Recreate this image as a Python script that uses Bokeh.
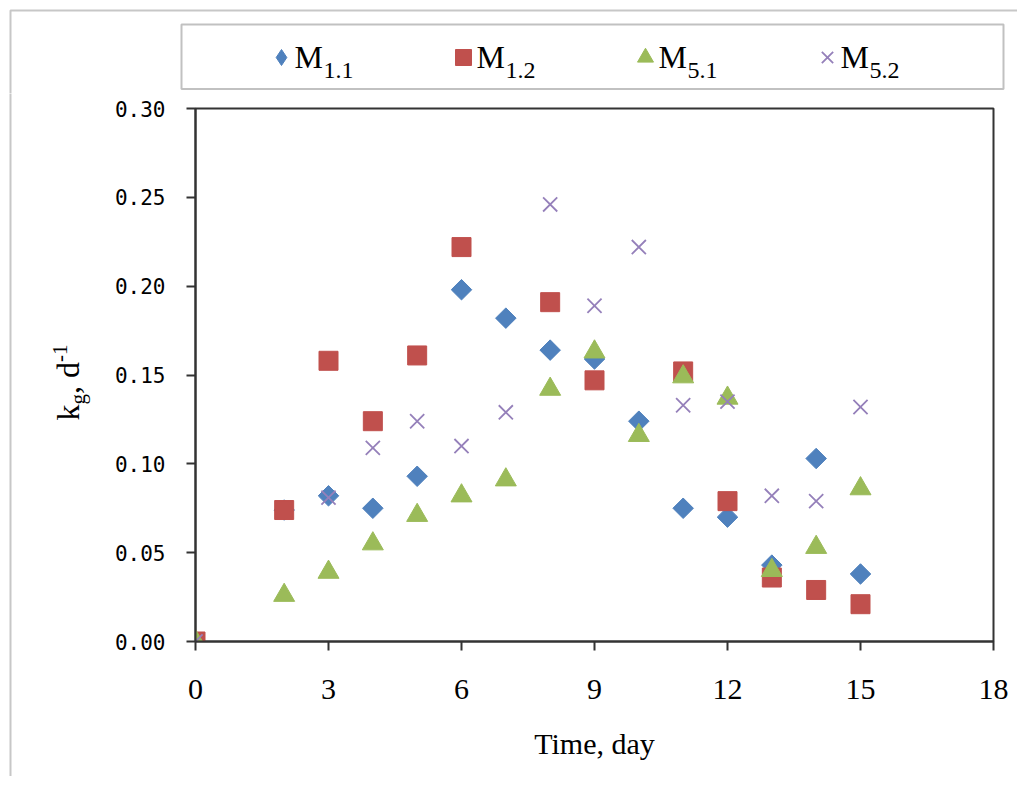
import math
from bokeh.plotting import figure
from bokeh.layouts import column, row
from bokeh.models import (Range1d, FixedTicker, NumeralTickFormatter, Legend,
                          LegendItem, Label, BoxAnnotation)
from bokeh.embed import file_html
from bokeh.resources import INLINE

# ---------------- data ----------------
days_m11 = [0, 2, 3, 4, 5, 6, 7, 8, 9, 10, 11, 12, 13, 14, 15]
kg_m11 = [0.000, 0.074, 0.082, 0.075, 0.093, 0.198, 0.182, 0.164, 0.159,
          0.124, 0.075, 0.070, 0.043, 0.103, 0.038]

days_m12 = [0, 2, 3, 4, 5, 6, 8, 9, 11, 12, 13, 14, 15]
kg_m12 = [0.000, 0.074, 0.158, 0.124, 0.161, 0.222, 0.191, 0.147, 0.152,
          0.079, 0.036, 0.029, 0.021]

days_m51 = [0, 2, 3, 4, 5, 6, 7, 8, 9, 10, 11, 12, 13, 14, 15]
kg_m51 = [0.000, 0.026, 0.039, 0.055, 0.071, 0.082, 0.091, 0.142, 0.163,
          0.116, 0.149, 0.137, 0.040, 0.053, 0.086]

days_m52 = [0, 3, 4, 5, 6, 7, 8, 9, 10, 11, 12, 13, 14, 15]
kg_m52 = [0.000, 0.081, 0.109, 0.124, 0.110, 0.129, 0.246, 0.189, 0.222,
          0.133, 0.135, 0.082, 0.079, 0.132]

series_subs = ["1.1", "1.2", "5.1", "5.2"]
x_ticks = [0, 3, 6, 9, 12, 15, 18]
y_ticks = [0.00, 0.05, 0.10, 0.15, 0.20, 0.25, 0.30]
x_title = "Time, day"

BLUE = "#4F81BD"
RED = "#C0504D"
GREEN = "#9BBB59"
PURPLE = "#9580BA"
AX = "#333333"
BORDER = "#444444"
NAN = float("nan")

# ---------------- overall geometry (page px) ----------------
W, H = 1017, 776
TOP_H = 93          # legend strip height
LEFT_W = 100        # y-title strip width
FRAME_L, FRAME_R, FRAME_T, FRAME_B = 195, 993, 108, 641
FAR = 10000
BASE_K = 0.40       # label baseline correction (fraction of font size)


def strip_fig(width, height, y_offset):
    f = figure(width=width, height=height, output_backend="svg", toolbar_location=None,
               x_range=Range1d(0, width), y_range=Range1d(y_offset + height, y_offset),
               x_axis_location=None, y_axis_location=None, min_border=0,
               frame_align=False,
               background_fill_color="white", border_fill_color="white")
    f.xgrid.visible = False
    f.ygrid.visible = False
    f.outline_line_color = None
    return f


# ---------------- top strip: legend ----------------
top = strip_fig(W, TOP_H, 0)
top.add_layout(BoxAnnotation(left=10, top=10, right=FAR, bottom=FAR,
                             fill_color=None, fill_alpha=0,
                             line_color=BORDER, line_width=2))
top.add_layout(BoxAnnotation(left=181, right=1003, top=24, bottom=88.5,
                             fill_color=None, fill_alpha=0,
                             line_color=AX, line_width=2))
# legend proxies (NaN point: nothing drawn in the strip itself)
lg_d = top.scatter(x=[NAN], y=[NAN], marker="diamond", fill_color=BLUE, line_color=BLUE)
lg_s = top.scatter(x=[NAN], y=[NAN], marker="square", fill_color=RED, line_color=RED)
lg_t = top.scatter(x=[NAN], y=[NAN], marker="triangle", fill_color=GREEN, line_color=GREEN)
lg_x = top.scatter(x=[NAN], y=[NAN], marker="x", line_color=PURPLE, line_width=1.8)

pitch = 182
first_center = 281
legend = Legend(items=[LegendItem(label=" ", renderers=[r]) for r in (lg_d, lg_s, lg_t, lg_x)],
                orientation="horizontal",
                location=(first_center - 20, TOP_H - 77),
                glyph_width=40, glyph_height=40, label_standoff=0,
                label_width=20, label_height=20, spacing=pitch - 60,
                padding=0, margin=0, border_line_color=None,
                background_fill_alpha=0, label_text_font_size="8px")
top.add_layout(legend)

for i, sub in enumerate(series_subs):
    mx = first_center + i * pitch + 13
    top.add_layout(Label(x=mx, y=69 - BASE_K * 32, text="M", text_font="Liberation Serif",
                         text_font_size="32px", text_color="black",
                         text_align="left", text_baseline="alphabetic"))
    top.add_layout(Label(x=mx + 29, y=80 - BASE_K * 24, text=sub, text_font="Liberation Serif",
                         text_font_size="24px", text_color="black",
                         text_align="left", text_baseline="alphabetic"))

# ---------------- left strip: y-axis title ----------------
BOT_H = H - TOP_H
left = strip_fig(LEFT_W, BOT_H, TOP_H)
left.add_layout(BoxAnnotation(left=10, top=-FAR, right=FAR, bottom=FAR,
                              fill_color=None, fill_alpha=0,
                              line_color=BORDER, line_width=2))
ang = math.pi / 2
ytitle_parts = [("k", 80, 420, 32), ("g", 86, 404, 21),
                (", d", 80, 393.5, 32), ("-1", 68, 361.5, 21)]
for txt, X, Y, fs in ytitle_parts:
    left.add_layout(Label(x=X - BASE_K * fs, y=Y, text=txt, angle=ang,
                          text_font="Liberation Serif", text_font_size=f"{fs}px",
                          text_color="black", text_align="left",
                          text_baseline="alphabetic"))

# ---------------- main plot ----------------
MAIN_W = W - LEFT_W
p = figure(width=MAIN_W, height=BOT_H, output_backend="svg", toolbar_location=None,
           x_range=Range1d(0, 18), y_range=Range1d(0, 0.30),
           min_border_left=FRAME_L - LEFT_W, min_border_right=W - FRAME_R,
           min_border_top=FRAME_T - TOP_H, min_border_bottom=H - FRAME_B,
           frame_align=False,
           background_fill_color="white", border_fill_color="white")
p.xgrid.visible = False
p.ygrid.visible = False
p.outline_line_color = AX
p.outline_line_width = 2
p.outline_line_alpha = 1.0

for ax in (p.xaxis, p.yaxis):
    ax.axis_line_color = AX
    ax.axis_line_width = 2
    ax.major_tick_line_color = AX
    ax.major_tick_line_width = 2
    ax.major_tick_out = 9
    ax.major_tick_in = 0
    ax.minor_tick_line_color = None
    ax.major_label_text_color = "black"

p.xaxis.ticker = FixedTicker(ticks=x_ticks)
p.xaxis.major_label_text_font = "Liberation Serif"
p.xaxis.major_label_text_font_size = "30px"
p.xaxis.major_label_standoff = 29
p.xaxis.axis_label = x_title
p.xaxis.axis_label_text_font = "Liberation Serif"
p.xaxis.axis_label_text_font_size = "30px"
p.xaxis.axis_label_text_font_style = "normal"
p.xaxis.axis_label_text_color = "black"
p.xaxis.axis_label_standoff = 25

p.yaxis.ticker = FixedTicker(ticks=y_ticks)
p.yaxis.formatter = NumeralTickFormatter(format="0.00")
p.yaxis.major_label_text_font = "DejaVu Sans Mono"
p.yaxis.major_label_text_font_size = "21px"
p.yaxis.major_label_standoff = 21

p.scatter(days_m11, kg_m11, marker="square", size=14.5, angle=math.pi / 4,
          fill_color=BLUE, line_color=BLUE)
p.scatter(days_m12, kg_m12, marker="square", size=19,
          fill_color=RED, line_color=RED)
p.scatter(days_m51, kg_m51, marker="triangle", size=21,
          fill_color=GREEN, line_color=GREEN)
p.scatter(days_m52, kg_m52, marker="x", size=20,
          line_color=PURPLE, line_width=1.8)

layout = column(top, row(left, p, spacing=0), spacing=0)
open("out.html", "w").write(file_html(layout, INLINE))
